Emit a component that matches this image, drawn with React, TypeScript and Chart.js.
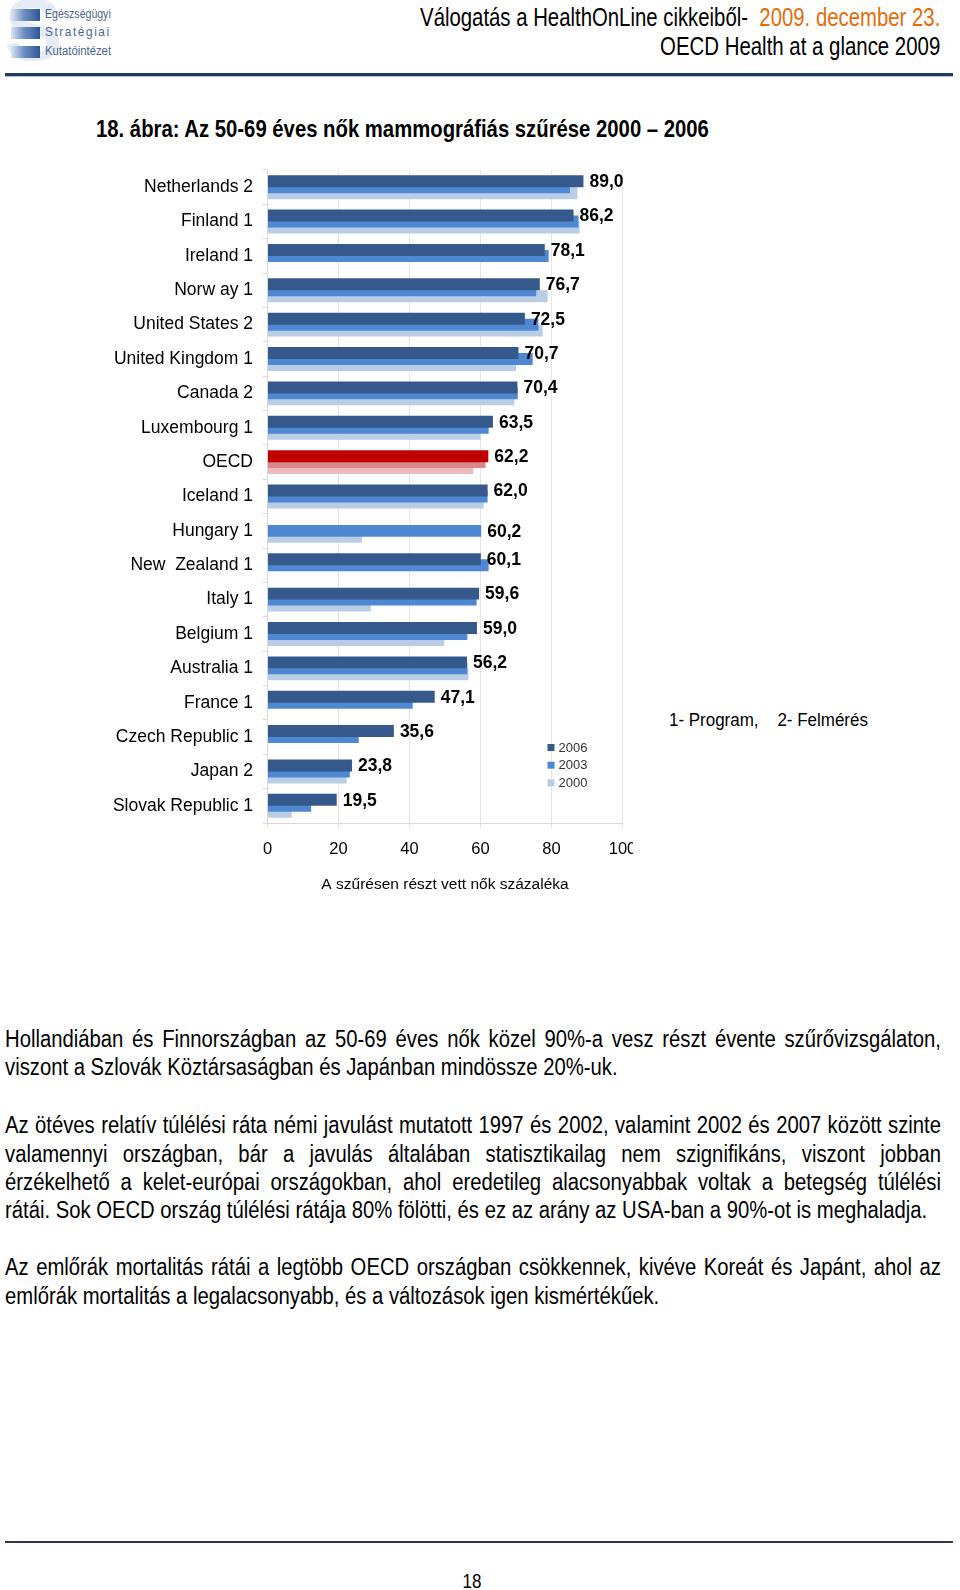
import React, { useEffect, useLayoutEffect, useRef } from "react";
import { Chart, registerables } from "chart.js";

Chart.register(...registerables);

if (typeof document !== "undefined") {
  document.body.style.margin = "0";
  document.body.style.overflow = "hidden";
}

// ---------- chart data ----------
const categories = [
  "Netherlands 2",
  "Finland 1",
  "Ireland 1",
  "Norw ay 1",
  "United States 2",
  "United Kingdom 1",
  "Canada 2",
  "Luxembourg 1",
  "OECD",
  "Iceland 1",
  "Hungary 1",
  "New  Zealand 1",
  "Italy 1",
  "Belgium 1",
  "Australia 1",
  "France 1",
  "Czech Republic 1",
  "Japan 2",
  "Slovak Republic 1",
];
const values2006 = [89.0, 86.2, 78.1, 76.7, 72.5, 70.7, 70.4, 63.5, 62.2, 62.0, null, 60.1, 59.6, 59.0, 56.2, 47.1, 35.6, 23.8, 19.5];
const values2003 = [85.2, 87.6, 79.2, 75.7, 76.3, 74.7, 70.5, 62.3, 61.4, 62.0, 60.2, 62.3, 58.9, 56.3, 56.3, 40.9, 25.7, 23.2, 12.3];
const values2000 = [87.3, 87.9, null, 78.9, 77.5, 70.0, 69.5, 60.0, 58.0, 60.9, 26.6, null, 29.1, 49.8, 56.6, null, null, 22.3, 6.8];
const seriesNames = ["2006", "2003", "2000"];
const xTickValues = [0, 20, 40, 60, 80, 100];
const xTitle = "A szűrésen részt vett nők százaléka";
const highlightCategory = "OECD";

// ---------- page texts ----------
const para1 = [
  "Hollandiában és Finnországban az 50-69 éves nők közel 90%-a vesz részt évente szűrővizsgálaton,",
  "viszont a Szlovák Köztársaságban és Japánban mindössze 20%-uk.",
];
const para2 = [
  "Az ötéves relatív túlélési ráta némi javulást mutatott 1997 és 2002, valamint 2002 és 2007 között szinte",
  "valamennyi országban, bár a javulás általában statisztikailag nem szignifikáns, viszont jobban",
  "érzékelhető a kelet-európai országokban, ahol eredetileg alacsonyabbak voltak a betegség túlélési",
  "rátái. Sok OECD ország túlélési rátája 80% fölötti, és ez az arány az USA-ban a 90%-ot is meghaladja.",
];
const para3 = [
  "Az emlőrák mortalitás rátái a legtöbb OECD országban csökkennek, kivéve Koreát és Japánt, ahol az",
  "emlőrák mortalitás a legalacsonyabb, és a változások igen kismértékűek.",
];

const SANS = '"Liberation Sans", Arial, sans-serif';

const BLUES = ["#36598B", "#4F88D2", "#B9CDE5"];
const REDS = ["#C00000", "#D9878B", "#EBBBBE"];

const fmt = (v: number) => v.toFixed(1).replace(".", ",");

const barLabelPlugin = {
  id: "barLabels",
  afterDatasetsDraw(chart: any) {
    const ctx = chart.ctx;
    ctx.save();
    ctx.font = `bold 17.5px ${SANS}`;
    ctx.fillStyle = "#000";
    ctx.textBaseline = "middle";
    ctx.textAlign = "left";
    categories.forEach((_, i) => {
      const k = values2006[i] != null ? 0 : 1;
      const v = chart.data.datasets[k].data[i];
      if (v == null) return;
      const el = chart.getDatasetMeta(k).data[i];
      ctx.fillText(fmt(v), el.x + 6, el.y + 1);
    });
    ctx.restore();
  },
};

const innerLegendPlugin = {
  id: "innerLegend",
  afterDraw(chart: any) {
    const { ctx, chartArea } = chart;
    ctx.save();
    ctx.font = `13px ${SANS}`;
    ctx.textBaseline = "middle";
    ctx.textAlign = "left";
    const x0 = chartArea.left + 280;
    seriesNames.forEach((name, k) => {
      const y = chartArea.top + 577.5 + k * 17.7;
      ctx.fillStyle = BLUES[k];
      ctx.fillRect(x0, y - 3.5, 7, 7);
      ctx.fillStyle = "#333";
      ctx.fillText(name, x0 + 11, y + 0.5);
    });
    ctx.restore();
  },
};

// Text squeezed horizontally to a target width (emulates the narrow font of the source)
function FitText(props: {
  width: number;
  top: number;
  left?: number;
  right?: number;
  style?: React.CSSProperties;
  children: React.ReactNode;
}) {
  const ref = useRef<HTMLDivElement>(null);
  useLayoutEffect(() => {
    const el = ref.current;
    if (!el) return;
    const natural = el.offsetWidth;
    if (natural > 0) el.style.transform = `scaleX(${props.width / natural})`;
  }, []);
  return (
    <div
      ref={ref}
      style={{
        position: "absolute",
        top: props.top,
        left: props.left,
        right: props.right,
        whiteSpace: "pre",
        transformOrigin: props.right != null ? "right center" : "left center",
        ...props.style,
      }}
    >
      {props.children}
    </div>
  );
}

const PARA_SIZE = 23.5;
const PARA_SCALE = 0.862;
const PARA_WIDTH = 936;

function Paragraph(props: { lines: string[]; firstCenter: number }) {
  return (
    <>
      {props.lines.map((t, i) => {
        const justify = i < props.lines.length - 1;
        return (
          <div
            key={i}
            style={
              {
                position: "absolute",
                left: 5,
                top: props.firstCenter + i * 28.4 - 14,
                width: PARA_WIDTH / PARA_SCALE,
                fontFamily: SANS,
                fontSize: PARA_SIZE,
                lineHeight: "28px",
                color: "#000",
                whiteSpace: "nowrap",
                textAlign: justify ? "justify" : "left",
                textAlignLast: justify ? "justify" : "left",
                transform: `scaleX(${PARA_SCALE})`,
                transformOrigin: "left center",
              } as React.CSSProperties
            }
          >
            {t}
          </div>
        );
      })}
    </>
  );
}

export default function App() {
  const canvasRef = useRef<HTMLCanvasElement>(null);

  useEffect(() => {
    const canvas = canvasRef.current;
    if (!canvas) return;
    const data = [values2006, values2003, values2000];
    const chart = new Chart(canvas, {
      type: "bar",
      data: {
        labels: categories,
        datasets: seriesNames.map((name, k) => ({
          label: name,
          data: data[k],
          backgroundColor: categories.map((c) => (c === highlightCategory ? REDS[k] : BLUES[k])),
          borderWidth: 0,
          categoryPercentage: 18 / 34.5,
          barPercentage: 2,
        })),
      },
      options: {
        indexAxis: "y",
        responsive: false,
        animation: false,
        layout: { padding: { top: 17, right: 37.5, bottom: 0, left: 0 } },
        plugins: {
          legend: { display: false },
          tooltip: { enabled: false },
        },
        scales: {
          x: {
            min: 0,
            max: 100,
            afterBuildTicks: (s: any) => {
              s.ticks = xTickValues.map((v) => ({ value: v }));
            },
            afterFit: (s: any) => {
              s.height = 72;
            },
            ticks: {
              color: "#000",
              font: { family: SANS, size: 16.5 },
              padding: 11.6,
              maxRotation: 0,
            },
            grid: { color: "#E4E4E4", tickLength: 5, drawTicks: true },
            border: { color: "#D9D9D9" },
            title: {
              display: true,
              text: xTitle,
              color: "#000",
              font: { family: SANS, size: 15.5 },
              padding: { top: 0, bottom: 0.7 },
            },
          },
          y: {
            afterFit: (s: any) => {
              s.width = 267.5;
            },
            ticks: {
              color: "#000",
              font: { family: SANS, size: 17.5 },
              padding: 9.5,
              autoSkip: false,
            },
            grid: { drawOnChartArea: false, tickLength: 5, color: "#DADADA" },
            border: { color: "#DADADA" },
          },
        },
      } as any,
      plugins: [barLabelPlugin, innerLegendPlugin],
    });
    return () => chart.destroy();
  }, []);

  return (
    <div
      style={{
        position: "relative",
        width: 960,
        height: 1590,
        background: "#fff",
        overflow: "hidden",
        fontFamily: SANS,
      }}
    >
      {/* Logo */}
      <div
        style={{
          position: "absolute",
          left: 4,
          top: -14,
          fontFamily: SANS,
          fontSize: 88,
          fontWeight: "bold",
          color: "#E6ECF5",
          lineHeight: "88px",
        }}
      >
        S
      </div>
      {[9, 27, 46].map((t, i) => (
        <div
          key={i}
          style={{
            position: "absolute",
            left: 11,
            top: t,
            width: 29,
            height: 12,
            background: "linear-gradient(to right, #DCE5F1, #6C8FC2 45%, #2F5597)",
          }}
        />
      ))}
      {[
        { t: "Egészségügyi", y: 14.2, ls: 0 },
        { t: "Stratégiai", y: 32.4, ls: 1.6 },
        { t: "Kutatóintézet", y: 50.7, ls: 0 },
      ].map((r, i) => (
        <FitText
          key={i}
          left={45}
          top={r.y - 7}
          width={66}
          style={{ fontFamily: SANS, fontSize: 12, lineHeight: "14px", letterSpacing: r.ls, color: "#4A6690" }}
        >
          {r.t}
        </FitText>
      ))}

      {/* Header right */}
      <FitText
        right={19.3}
        top={17.2 - 14}
        width={520}
        style={{ fontFamily: SANS, fontSize: 25, lineHeight: "28px", color: "#000" }}
      >
        {"Válogatás a HealthOnLine cikkeiből-  "}
        <span style={{ color: "#E46C0A" }}>2009. december 23.</span>
      </FitText>
      <FitText
        right={19.3}
        top={45.6 - 14}
        width={280}
        style={{ fontFamily: SANS, fontSize: 25, lineHeight: "28px", color: "#000" }}
      >
        OECD Health at a glance 2009
      </FitText>
      <div
        style={{
          position: "absolute",
          left: 5,
          top: 72.5,
          width: 948,
          height: 3,
          background: "#1F3A63",
          boxShadow: "0 1px 1px rgba(31,58,99,0.35)",
        }}
      />

      {/* Figure title */}
      <FitText
        left={96.3}
        top={128.7 - 14}
        width={613}
        style={{ fontFamily: SANS, fontSize: 24, fontWeight: "bold", lineHeight: "28px", color: "#000" }}
      >
        18. ábra: Az 50-69 éves nők mammográfiás szűrése 2000 – 2006
      </FitText>

      {/* Chart (right edge clipped like the source image) */}
      <div
        style={{
          position: "absolute",
          left: 0,
          top: 150,
          width: 633,
          height: 745,
          overflow: "hidden",
        }}
      >
        <canvas ref={canvasRef} width={660} height={745} style={{ display: "block" }} />
      </div>

      {/* Note */}
      <FitText
        left={669}
        top={720 - 11}
        width={198.7}
        style={{ fontFamily: SANS, fontSize: 17.5, lineHeight: "22px", color: "#000" }}
      >
        {"1- Program,    2- Felmérés"}
      </FitText>

      {/* Paragraphs */}
      <Paragraph lines={para1} firstCenter={1039} />
      <Paragraph lines={para2} firstCenter={1125.2} />
      <Paragraph lines={para3} firstCenter={1267.1} />

      {/* Footer */}
      <div
        style={{
          position: "absolute",
          left: 5,
          top: 1541,
          width: 948,
          height: 2,
          background: "#2A3550",
        }}
      />
      <div
        style={{
          position: "absolute",
          left: 460,
          width: 24,
          top: 1581 - 12,
          fontFamily: SANS,
          fontSize: 20,
          lineHeight: "24px",
          textAlign: "center",
          color: "#000",
          transform: "scaleX(0.85)",
        }}
      >
        18
      </div>
    </div>
  );
}
